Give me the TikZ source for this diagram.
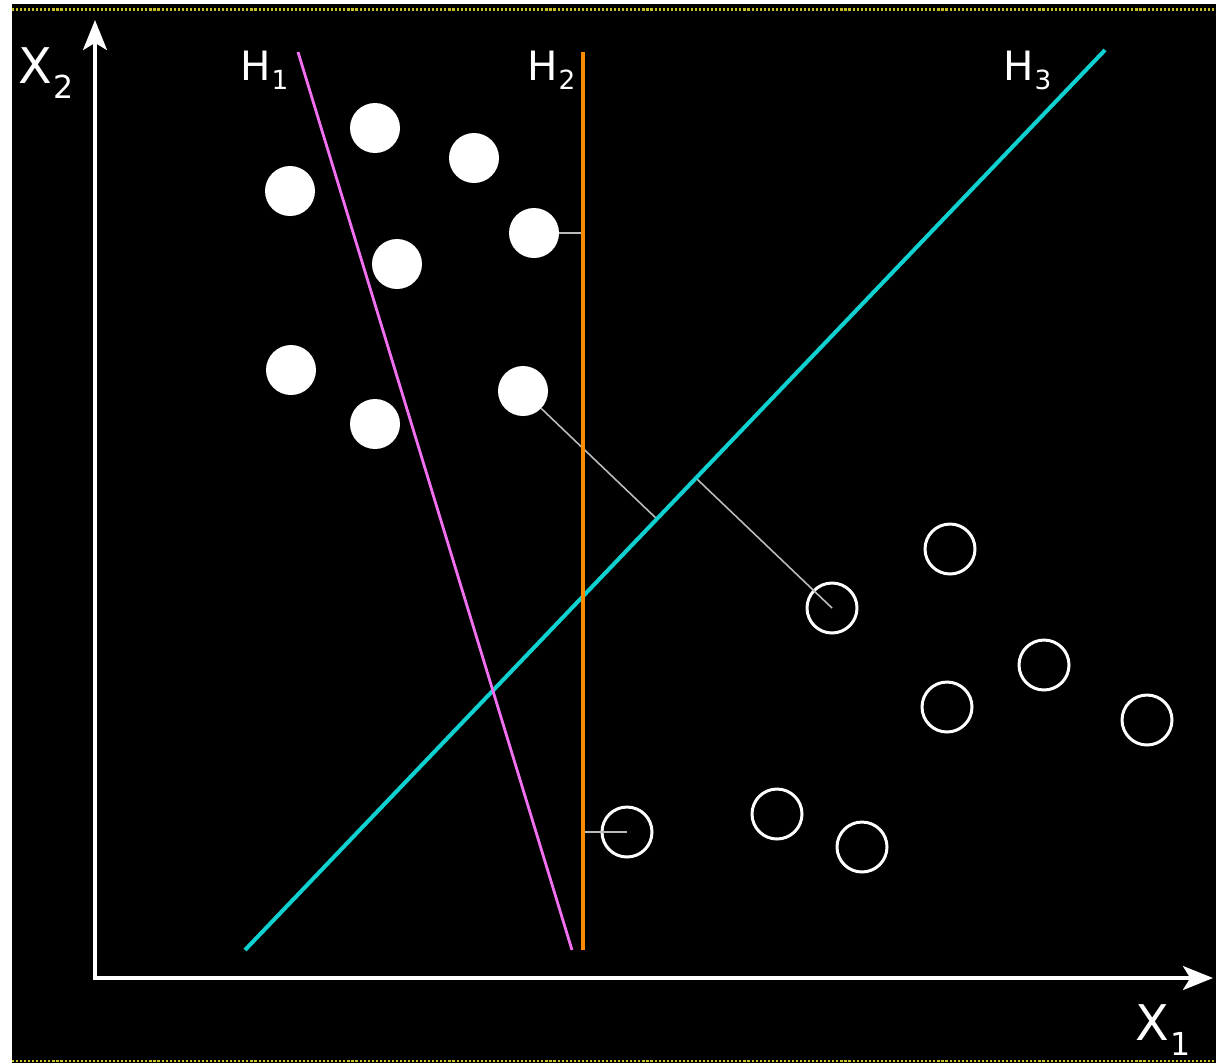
\documentclass[tikz,border=0pt]{standalone}
\usepackage{fontspec}
\setmainfont{DejaVu Sans}
\usetikzlibrary{arrows.meta,calc}
\definecolor{puntosMarco}{HTML}{C8C028}
\definecolor{violetaH}{HTML}{F070F0}
\definecolor{naranjaH}{HTML}{FF8C00}
\definecolor{cianH}{HTML}{10D0D0}
\definecolor{grisDist}{HTML}{BBBBBB}
\newcommand{\ejeTxt}[2]{{\fontsize{28}{28}\selectfont #1}\kern1pt\raisebox{-9pt}{\fontsize{18}{18}\selectfont #2}}
\newcommand{\hipTxt}[2]{{\fontsize{23}{23}\selectfont #1}\kern0.5pt\raisebox{-5.5pt}{\fontsize{15}{15}\selectfont #2}}

\begin{document}
\begin{tikzpicture}[
    x=0.02cm, y=-0.02cm,
    lleno/.style={circle, fill=white, inner sep=0pt, minimum size=1cm},
    hueco/.style={circle, draw=white, line width=1.7pt, inner sep=0pt, minimum size=1cm},
    eje/.style={line width=2.5pt, draw=white, line join=miter},
    etiq/.style={anchor=base west, inner sep=0pt, text=white},
    dist/.style={line width=0.9pt, draw=grisDist},
    marco/.style={puntosMarco, line width=1.3pt, dash pattern=on 1.2pt off 1.1pt}
  ]
  \useasboundingbox (0,0) rectangle (1216,1063);
  \fill[white] (0,0) rectangle (1216,1063);
  \fill[black] (12,4) rectangle (1216,1063);
  \draw[marco] (12,9.5) -- (1216,9.5);
  \draw[marco] (12,1061) -- (1216,1061);

  % ejes
  \coordinate (origen) at (95,978);
  \coordinate (ytop) at (95,20);
  \coordinate (xder) at (1213,978);
  \draw[eje, {Stealth[length=17pt, width=13.5pt, inset=4pt]}-{Stealth[length=17pt, width=13.5pt, inset=4pt]}]
    (ytop) -- (origen) -- (xder);
  \node[etiq] (x2) at (18,83) {\ejeTxt{X}{2}};
  \node[etiq] (x1) at (1135,1040) {\ejeTxt{X}{1}};

  % clase 1 (llenos)
  \node[lleno] (p1) at (375,128) {};
  \node[lleno] (p2) at (474,158) {};
  \node[lleno] (p3) at (290,191) {};
  \node[lleno] (p4) at (534,233) {};
  \node[lleno] (p5) at (397,264) {};
  \node[lleno] (p6) at (291,370) {};
  \node[lleno] (p7) at (375,424) {};
  \node[lleno] (p8) at (523,391) {};

  % clase 2 (huecos)
  \node[hueco] (q1) at (950,549) {};
  \node[hueco] (q2) at (832,608) {};
  \node[hueco] (q3) at (1044,665) {};
  \node[hueco] (q4) at (947,707) {};
  \node[hueco] (q5) at (1147,720) {};
  \node[hueco] (q6) at (777,814) {};
  \node[hueco] (q7) at (862,847) {};
  \node[hueco] (q8) at (627,832) {};

  % hiperplanos
  \coordinate (h1a) at (298,52);
  \coordinate (h1b) at (572,950);
  \coordinate (h2a) at (583,52);
  \coordinate (h2b) at (583,950);
  \coordinate (h3a) at (245,950);
  \coordinate (h3b) at (1105,50);

  % distancias al hiperplano
  \draw[dist] (p4) -- ($(h2a)!(p4)!(h2b)$);
  \draw[dist] (q8.center) -- ($(h2a)!(q8)!(h2b)$);
  \draw[dist] (p8) -- ($(h3a)!(p8)!(h3b)$);
  \draw[dist] (q2.center) -- ($(h3a)!(q2)!(h3b)$);

  \draw[cianH, line width=2.3pt] (h3a) -- (h3b);
  \draw[naranjaH, line width=2.5pt] (h2a) -- (h2b);
  \draw[violetaH, line width=1.6pt] (h1a) -- (h1b);

  \node[etiq] (lh1) at (240,80) {\hipTxt{H}{1}};
  \node[etiq] (lh2) at (527,80) {\hipTxt{H}{2}};
  \node[etiq] (lh3) at (1003,80) {\hipTxt{H}{3}};
\end{tikzpicture}
\end{document}
